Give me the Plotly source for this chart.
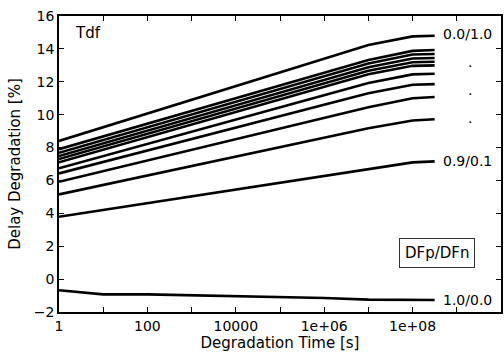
import plotly.graph_objects as go

# Degradation time points [s]
times = [1, 10, 100, 1e3, 1e4, 1e5, 1e6, 1e7, 1e8, 3.15e8]

# Delay degradation [%] for each DFp/DFn ratio (top to bottom)
s_00_10 = [8.40, 9.23, 10.07, 10.90, 11.74, 12.57, 13.41, 14.24, 14.76, 14.80]
s_01_09 = [7.90, 8.68, 9.45, 10.23, 11.00, 11.78, 12.56, 13.33, 13.88, 13.93]
s_02_08 = [7.68, 8.46, 9.23, 10.01, 10.78, 11.56, 12.33, 13.11, 13.66, 13.69]
s_03_07 = [7.48, 8.25, 9.03, 9.80, 10.57, 11.35, 12.12, 12.89, 13.42, 13.45]
s_04_06 = [7.30, 8.07, 8.83, 9.60, 10.37, 11.14, 11.90, 12.67, 13.19, 13.22]
s_05_05 = [7.10, 7.87, 8.63, 9.40, 10.16, 10.93, 11.70, 12.46, 12.97, 13.00]
s_06_04 = [6.74, 7.48, 8.22, 8.96, 9.70, 10.45, 11.19, 11.93, 12.45, 12.49]
s_07_03 = [6.43, 7.13, 7.82, 8.52, 9.21, 9.91, 10.61, 11.30, 11.82, 11.86]
s_08_02 = [5.92, 6.57, 7.21, 7.86, 8.51, 9.16, 9.80, 10.45, 11.00, 11.07]
s_085_015 = [5.15, 5.72, 6.30, 6.87, 7.45, 8.02, 8.59, 9.17, 9.65, 9.72]
s_09_01 = [3.79, 4.20, 4.61, 5.02, 5.43, 5.85, 6.26, 6.67, 7.10, 7.16]
s_10_00 = [-0.68, -0.93, -0.93, -0.98, -1.03, -1.08, -1.15, -1.25, -1.27, -1.27]

series = [s_00_10, s_01_09, s_02_08, s_03_07, s_04_06, s_05_05,
          s_06_04, s_07_03, s_08_02, s_085_015, s_09_01, s_10_00]

# x tick marks (every decade), labels on even decades
x_tickvals = [1, 10, 100, 1e3, 1e4, 1e5, 1e6, 1e7, 1e8, 1e9, 1e10]
x_ticktext = ["1", "", "100", "", "10000", "", "1e+06", "", "1e+08", "", ""]
y_tickvals = [-2, 0, 2, 4, 6, 8, 10, 12, 14, 16]

# End labels
end_labels = [("0.0/1.0", s_00_10[-1] + 0.1), ("0.9/0.1", s_09_01[-1]), ("1.0/0.0", s_10_00[-1])]
dot_levels = [12.92, 11.19, 9.51]

FONT = "DejaVu Sans"

fig = go.Figure()
for s in series:
    fig.add_trace(go.Scatter(x=times, y=s, mode="lines",
                             line=dict(color="black", width=2.6),
                             showlegend=False, hoverinfo="skip"))

axis_common = dict(showline=True, linecolor="black", linewidth=1.5, mirror="allticks",
                   ticks="inside", ticklen=5, tickwidth=1, tickcolor="black",
                   showgrid=False, zeroline=False,
                   tickfont=dict(family=FONT, size=14, color="black"))

fig.update_xaxes(type="log", range=[0, 10], tickvals=x_tickvals, ticktext=x_ticktext,
                 title=dict(text="Degradation Time [s]", font=dict(family=FONT, size=15, color="black"),
                            standoff=2),
                 **axis_common)
fig.update_yaxes(range=[-2, 16], tickvals=y_tickvals,
                 title=dict(text="Delay Degradation [%]", font=dict(family=FONT, size=15, color="black"),
                            standoff=10),
                 **axis_common)

anns = []
anns.append(dict(text="Tdf", xref="paper", yref="paper", x=(73 - 59) / 444, y=1 - (33.3 - 16) / 296,
                 xanchor="left", yanchor="middle", showarrow=False,
                 font=dict(family=FONT, size=15, color="black")))
for txt, yv in end_labels:
    anns.append(dict(text=txt, xref="paper", yref="y", x=(443 - 59) / 444, y=yv,
                     xanchor="left", yanchor="middle", showarrow=False,
                     font=dict(family=FONT, size=14, color="black")))
for yv in dot_levels:
    anns.append(dict(text=".", xref="paper", yref="y", x=(471.7 - 59) / 444, y=yv,
                     xanchor="center", yanchor="middle", yshift=5, showarrow=False,
                     font=dict(family=FONT, size=14, color="black")))
anns.append(dict(text="DFp/DFn", xref="paper", yref="paper", x=(438.3 - 59) / 444,
                 y=1 - (252.7 - 16) / 296, xanchor="center", yanchor="middle", showarrow=False,
                 bordercolor="#333333", borderwidth=1, borderpad=5, bgcolor="white",
                 font=dict(family=FONT, size=15, color="black")))

fig.update_layout(width=504, height=356, margin=dict(l=59, r=1, t=16, b=44),
                  plot_bgcolor="white", paper_bgcolor="white", annotations=anns,
                  font=dict(family=FONT, color="black"))

fig.write_html("out.html", config={"displayModeBar": False},
               post_script="document.body.style.margin='0';")
